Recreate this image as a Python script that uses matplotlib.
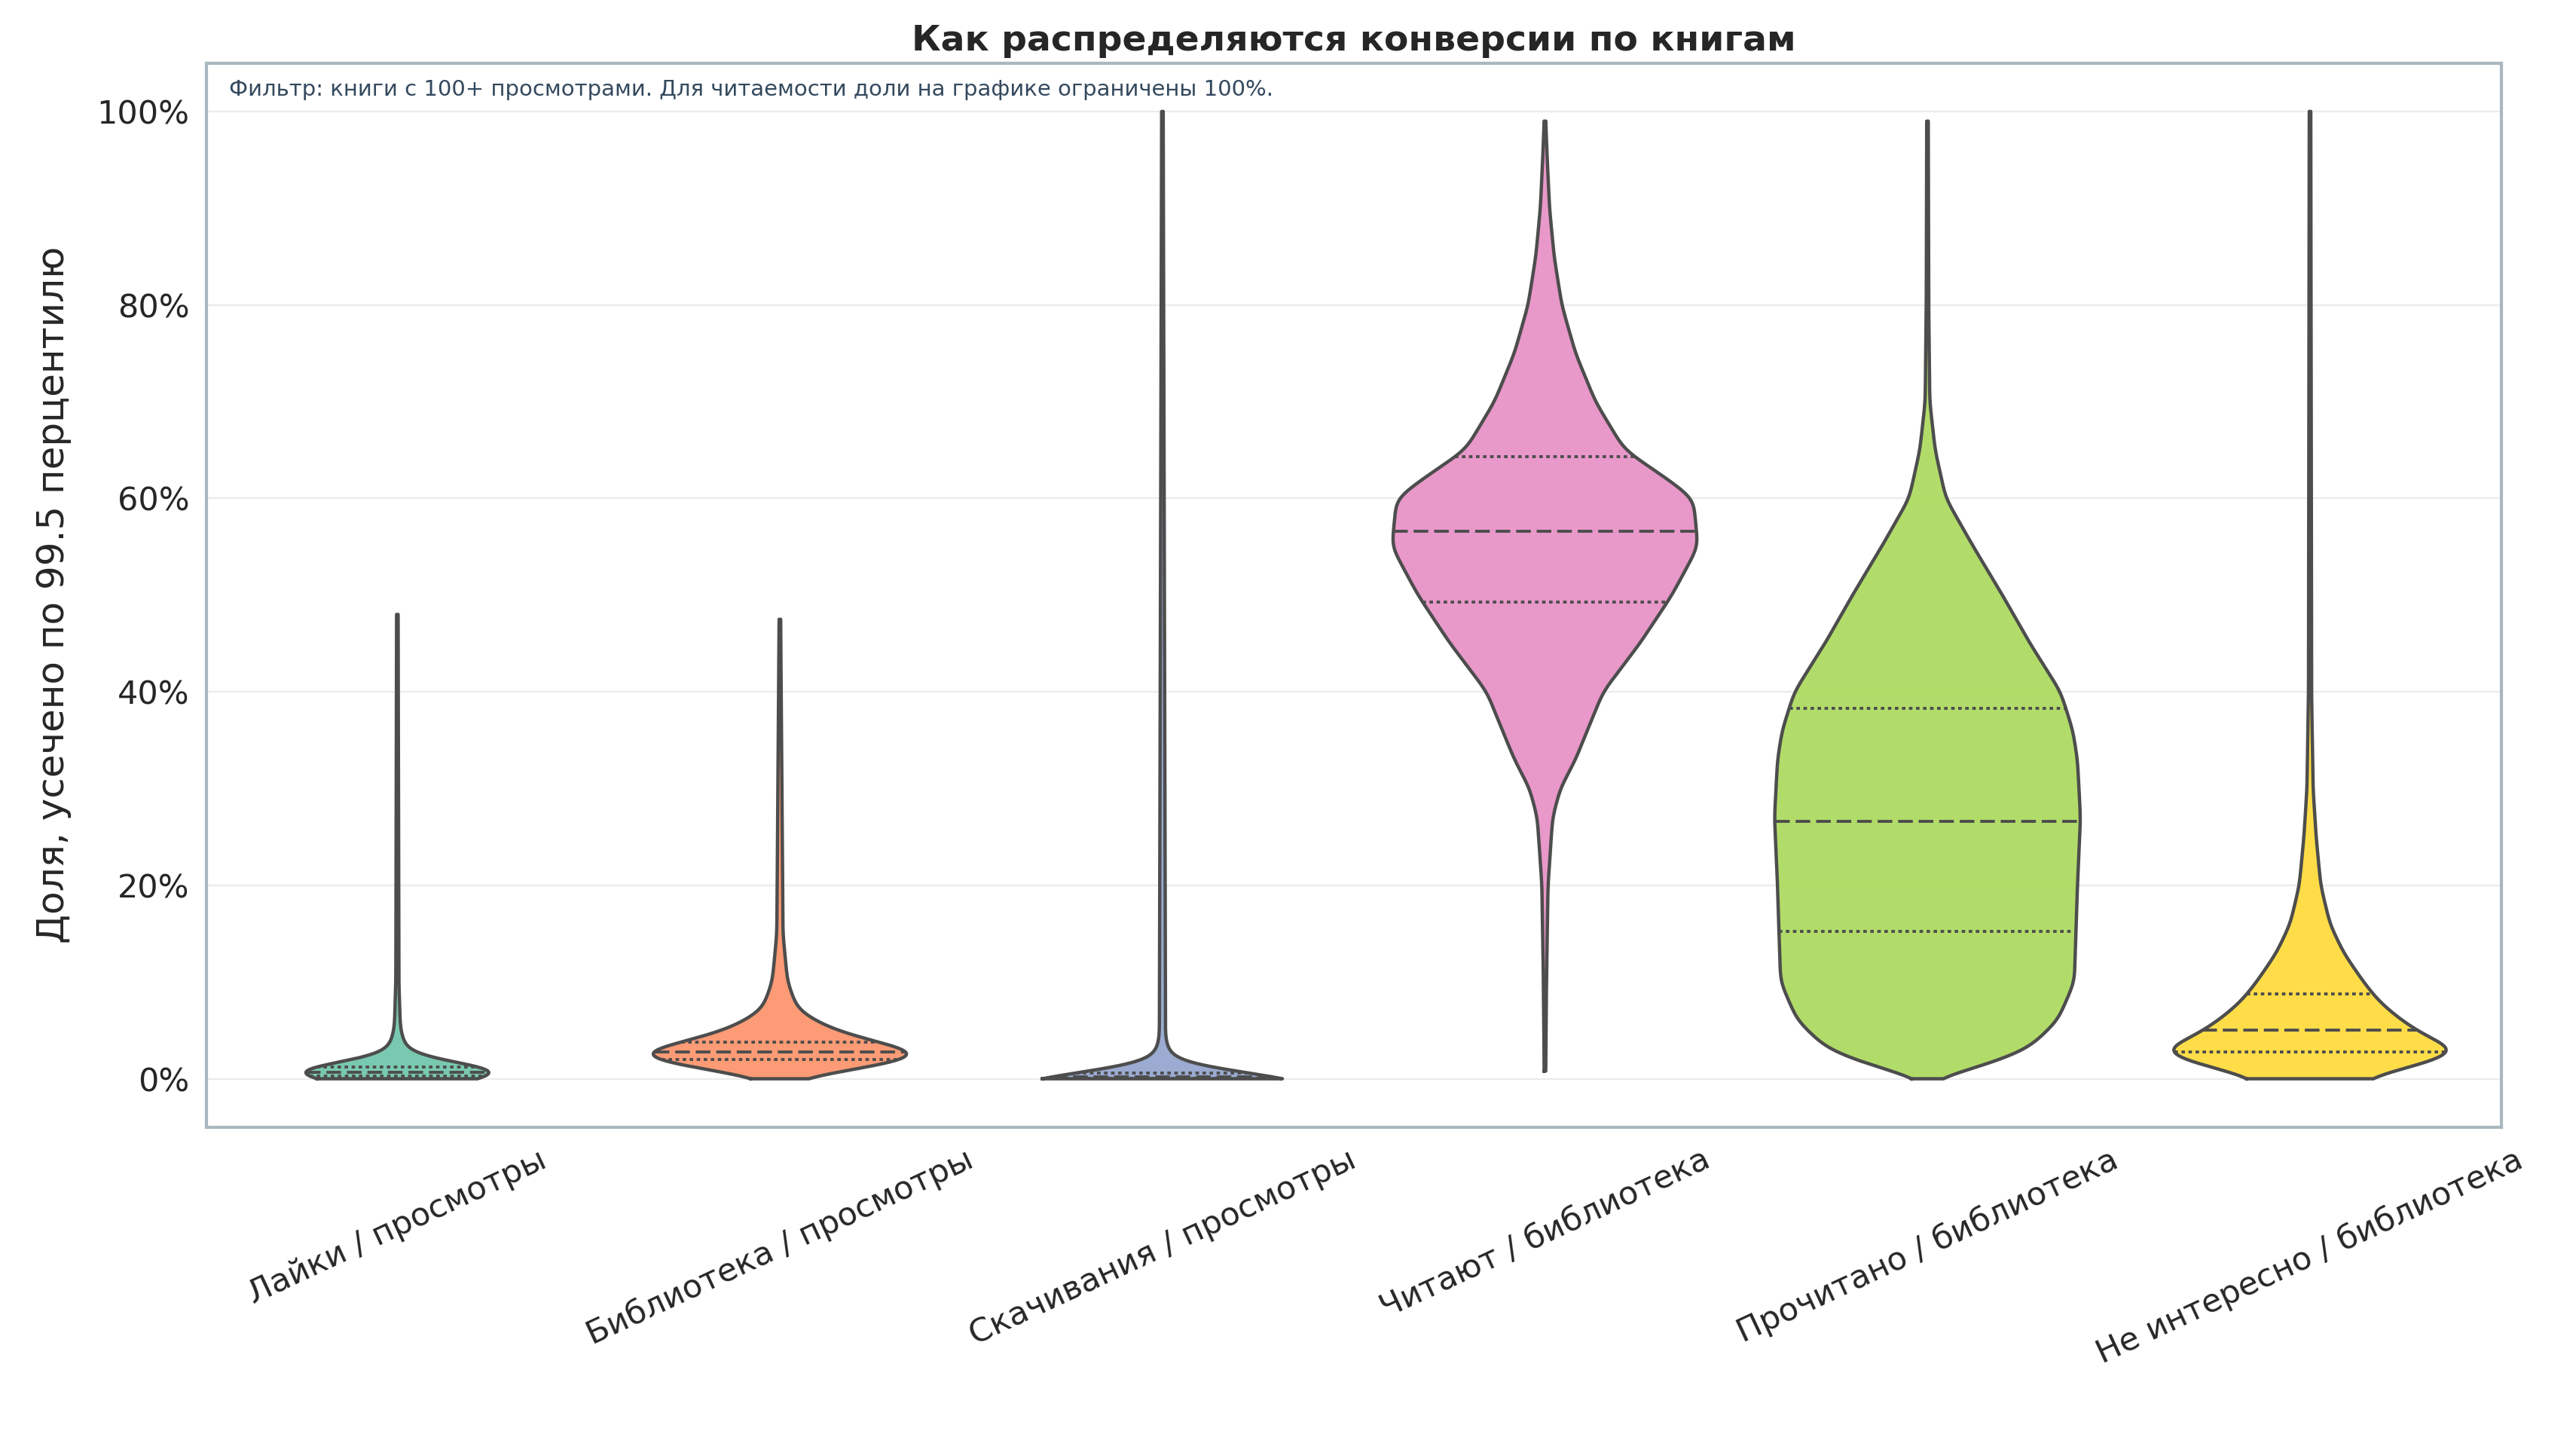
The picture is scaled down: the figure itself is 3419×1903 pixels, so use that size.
import numpy as np
import matplotlib
matplotlib.use("Agg")
import matplotlib.pyplot as plt
from matplotlib.ticker import PercentFormatter

categories = ["Лайки / просмотры", "Библиотека / просмотры", "Скачивания / просмотры",
              "Читают / библиотека", "Прочитано / библиотека", "Не интересно / библиотека"]
colors = ["#66c2a5", "#fc8d62", "#8da0cb", "#e78ac3", "#a6d854", "#ffd92f"]

likes_y = [0, 0.002, 0.005, 0.01, 0.015, 0.02, 0.03, 0.05, 0.1, 0.48]
likes_w = [0.3, 0.8, 1.0, 0.75, 0.45, 0.15, 0.06, 0.02, 0.01, 0.005]
lib_y = [0.0, 0.01, 0.02, 0.027, 0.035, 0.05, 0.07, 0.1, 0.15, 0.475]
lib_w = [0.05, 0.5, 0.9, 1.0, 0.7, 0.35, 0.12, 0.05, 0.02, 0.005]
down_y = [0.0, 0.005, 0.01, 0.015, 0.025, 0.04, 1.0]
down_w = [1.0, 0.6, 0.3, 0.12, 0.05, 0.02, 0.005]
read_y = [0.008, 0.1, 0.2, 0.27, 0.3, 0.33, 0.4, 0.45, 0.5, 0.55, 0.6, 0.62, 0.65, 0.7, 0.75, 0.8, 0.85, 0.9, 0.95, 0.99]
read_w = [0.005, 0.01, 0.02, 0.05, 0.1, 0.2, 0.38, 0.62, 0.83, 1.0, 0.97, 0.8, 0.52, 0.33, 0.2, 0.11, 0.06, 0.03, 0.015, 0.005]
done_y = [0, 0.01, 0.03, 0.06, 0.1, 0.15, 0.2, 0.27, 0.33, 0.36, 0.4, 0.45, 0.5, 0.55, 0.6, 0.65, 0.7, 0.8, 0.99]
done_w = [0.02, 0.3, 0.65, 0.85, 0.96, 0.97, 0.98, 1.0, 0.98, 0.95, 0.87, 0.67, 0.49, 0.3, 0.12, 0.05, 0.015, 0.008, 0.005]
nope_y = [0, 0.01, 0.02, 0.03, 0.04, 0.06, 0.08, 0.1, 0.13, 0.16, 0.2, 0.25, 0.3, 0.4, 1.0]
nope_w = [0.33, 0.6, 0.85, 1.0, 0.8, 0.6, 0.45, 0.35, 0.22, 0.13, 0.07, 0.04, 0.02, 0.01, 0.005]

profiles = [(likes_y, likes_w), (lib_y, lib_w), (down_y, down_w),
            (read_y, read_w), (done_y, done_w), (nope_y, nope_w)]
quartiles = [[0.003, 0.007, 0.012], [0.02, 0.028, 0.038], [0.0005, 0.002, 0.006],
             [0.493, 0.566, 0.643], [0.152, 0.266, 0.383], [0.028, 0.05, 0.088]]

def smooth_profile(ys, ws, n=1500):
    yy = np.linspace(ys[0], ys[-1], n)
    ww = np.interp(yy, ys, ws)
    step = yy[1] - yy[0]
    sig = max(0.008 / step, 1.0) if ys[-1] - ys[0] > 0.3 else 1.0
    k = int(3 * sig)
    x = np.arange(-k, k + 1)
    ker = np.exp(-0.5 * (x / sig) ** 2); ker /= ker.sum()
    pad = np.pad(ww, k, mode="edge")
    sm = np.convolve(pad, ker, mode="valid")
    # keep narrow shapes (small-range violins) sharp where they are tiny
    sm = np.maximum(np.minimum(sm, ww.max()), 0.003)
    return yy, sm

plt.rcParams['font.family'] = ['DejaVu Sans']
fig = plt.figure(figsize=(17.095, 9.515), dpi=200)
ax = fig.add_axes([0.08, 0.214, 0.891, 0.742])
maxw = 0.4
edge = "#4d4d4d"
for i, ((ys, ws), c, q) in enumerate(zip(profiles, colors, quartiles)):
    yy, ww = smooth_profile(ys, ws)
    ww = ww * maxw
    ax.fill_betweenx(yy, i - ww, i + ww, facecolor=c, alpha=0.88, edgecolor="none", zorder=3)
    ax.plot(np.r_[i - ww, (i + ww)[::-1], i - ww[0]], np.r_[yy, yy[::-1], yy[0]],
            color=edge, lw=1.6, zorder=4)
    for k, qv in enumerate(q):
        hw = np.interp(qv, yy, ww)
        ax.plot([i - hw, i + hw], [qv, qv], color=edge, lw=1.4,
                ls=(0, (5, 2)) if k == 1 else (0, (1.2, 1.2)), zorder=5)

ax.set_xlim(-0.5, 5.5)
ax.set_ylim(-0.05, 1.05)
ax.set_yticks([0, 0.2, 0.4, 0.6, 0.8, 1.0])
ax.yaxis.set_major_formatter(PercentFormatter(1.0, decimals=0))
ax.set_xticks(range(6))
ax.set_xticklabels(categories, rotation=25, fontsize=15.5, color="#262626")
ax.tick_params(axis='y', labelsize=15.5, colors="#262626", length=0, pad=8)
ax.tick_params(axis='x', length=0, pad=8)
ax.grid(axis='y', color="#ebebeb", lw=0.8, zorder=0)
for s in ax.spines.values():
    s.set_color("#aab7bf"); s.set_linewidth(1.5)
ax.set_ylabel("Доля, усечено по 99.5 перцентилю", fontsize=18, color="#262626", labelpad=12)
ax.set_title("Как распределяются конверсии по книгам", fontsize=17, fontweight="bold", color="#262626", pad=6)
ax.text(0.01, 0.985, "Фильтр: книги с 100+ просмотрами. Для читаемости доли на графике ограничены 100%.",
        transform=ax.transAxes, ha="left", va="top", fontsize=10.5, color="#34495e")
fig.savefig("out.png", dpi=200)
